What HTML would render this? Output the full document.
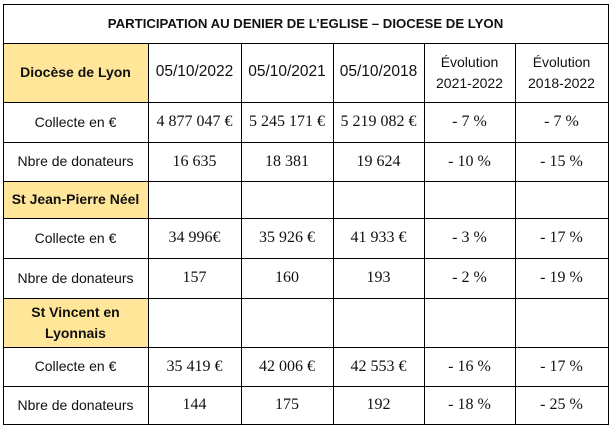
<!DOCTYPE html>
<html><head><meta charset="utf-8"><style>
body{margin:0;width:612px;height:427px;background:#fff;position:relative;overflow:hidden}
.c{position:absolute;box-sizing:border-box;display:flex;align-items:center;justify-content:center;text-align:center;color:#111}
.s{font-family:"Liberation Sans",sans-serif;font-size:14px}
.d{font-family:"Liberation Sans",sans-serif;font-size:15.5px}
.n{font-family:"Liberation Serif",serif;font-size:16px}
.b{font-weight:bold}
.y{background:#FFE699}
.h{position:absolute;background:#000;height:1.3px}
.v{position:absolute;background:#000;width:1.3px}
</style></head><body>
<div class="c y" style="left:3px;top:43px;width:145px;height:59px"></div>
<div class="c y" style="left:3px;top:181px;width:145px;height:37px"></div>
<div class="c y" style="left:3px;top:298px;width:145px;height:49px"></div>
<div class="c s b" style="left:3px;top:4px;width:605px;height:39px;font-size:13.2px">PARTICIPATION AU DENIER DE L’EGLISE – DIOCESE DE LYON</div>
<script>
const cols=[3,148,241,333,424,515,608];
const rows=[43,102,142,181,218,258,298,347,386,424];
const data=[
[["Diocèse de Lyon","s b"],["05/10/2022","d"],["05/10/2021","d"],["05/10/2018","d"],["Évolution<br>2021-2022","s"],["Évolution<br>2018-2022","s"]],
[["Collecte en €","s"],["4 877 047 €","n"],["5 245 171 €","n"],["5 219 082 €","n"],["- 7 %","n"],["- 7 %","n"]],
[["Nbre de donateurs","s"],["16 635","n"],["18 381","n"],["19 624","n"],["- 10 %","n"],["- 15 %","n"]],
[["St Jean-Pierre Néel","s b"],["",""],["",""],["",""],["",""],["",""]],
[["Collecte en €","s"],["34 996€","n"],["35 926 €","n"],["41 933 €","n"],["- 3 %","n"],["- 17 %","n"]],
[["Nbre de donateurs","s"],["157","n"],["160","n"],["193","n"],["- 2 %","n"],["- 19 %","n"]],
[["St Vincent en<br>Lyonnais","s b"],["",""],["",""],["",""],["",""],["",""]],
[["Collecte en €","s"],["35 419 €","n"],["42 006 €","n"],["42 553 €","n"],["- 16 %","n"],["- 17 %","n"]],
[["Nbre de donateurs","s"],["144","n"],["175","n"],["192","n"],["- 18 %","n"],["- 25 %","n"]]];
let h="";
for(let r=0;r<9;r++)for(let c=0;c<6;c++){const[t,k]=data[r][c];
h+=`<div class="c ${k}" style="left:${cols[c]}px;top:${rows[r]}px;width:${cols[c+1]-cols[c]}px;height:${rows[r+1]-rows[r]}px;line-height:1.45">${t}</div>`;}
h+=`<div class="h" style="left:3px;top:4px;width:606px"></div>`;
rows.forEach(y=>h+=`<div class="h" style="left:3px;top:${y}px;width:606px"></div>`);
h+=`<div class="v" style="left:3px;top:4px;height:421px"></div><div class="v" style="left:608px;top:4px;height:421px"></div>`;
cols.slice(1,6).forEach(x=>h+=`<div class="v" style="left:${x}px;top:43px;height:382px"></div>`);
document.body.insertAdjacentHTML("beforeend",h);
</script>
</body></html>
